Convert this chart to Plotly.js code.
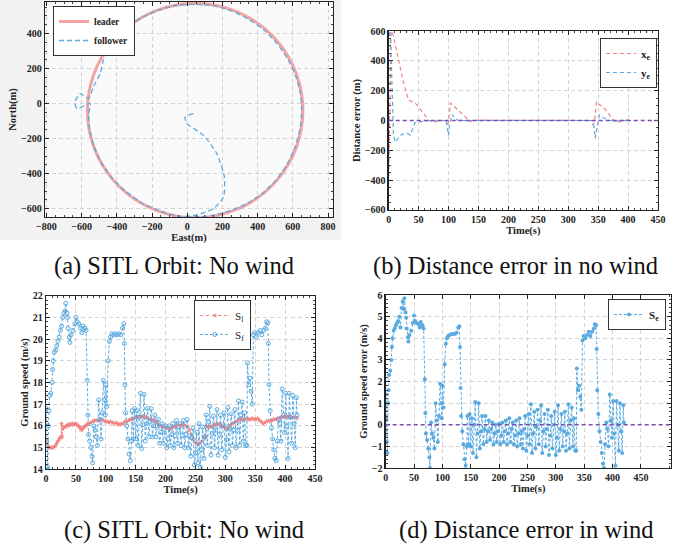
<!DOCTYPE html>
<html><head><meta charset="utf-8">
<script src="https://cdn.plot.ly/plotly-3.0.1.min.js"></script>
<style>html,body{margin:0;padding:0;background:#fff}#chart{width:686px;height:551px}</style>
</head><body><div id="chart"></div>
<script>
// ---- (a) orbit ----
const leaderEast  = [657,648,620,575,514,438,351,254,151,45,-61,-164,-261,-348,-424,-485,-530,-558,-567,-558,-530,-485,-424,-348,-261,-164,-61,45,151,254,351,438,514,575,620,648,657];
const leaderNorth = [-40,66,169,266,353,429,490,535,563,572,563,535,490,429,353,266,169,66,-40,-146,-249,-346,-433,-509,-570,-615,-643,-652,-643,-615,-570,-509,-433,-346,-249,-146,-40];
const followerEast  = [35,-12,-2,92,168,211,206,149,60,-40,-164,-261,-348,-424,-485,-530,-555,-560,-552,-627,-637,-609,-560,-533,-495,-476,-440,-400,-348,-261,-164,-61,45,151,254,351,438,510,570,615,642,650,640,612,568,508,432,345,250,150,45,-10];
const followerNorth = [-57,-76,-114,-181,-286,-419,-534,-600,-635,-645,-610,-565,-503,-428,-342,-246,-145,-60,0,-29,9,57,30,95,171,248,320,390,429,490,533,560,567,558,528,480,418,342,255,160,60,-40,-146,-249,-346,-433,-509,-568,-610,-638,-648,-645];

// ---- (b) distance error ----
const tX = [0,1.5,3,4,7,10,15,20,25,30,33,40,45,50,55,61,67,72,78,85,90,95,98,100,103,108,114,120,128,132,136,140,150,200,250,300,338,341,344,347,352,358,363,369,374,378,383,390,397,405];
const xe = [-420,0,400,600,580,520,430,340,250,175,137,125,114,90,62,36,2,-4,-9,-2,0,0,-25,-10,118,98,80,55,25,5,-9,0,2,1,0,1,0,-30,-10,126,105,93,70,37,10,-8,-12,0,3,1];
const tY = [0,2,4,6,8,11,15,20,25,31,36,40,44,48,55,60,70,90,96,98,100,102,106,111,115,120,200,300,340,343,345,349,352,358,363,370,380,390,405];
const ye = [560,600,450,100,-100,-145,-120,-98,-90,-87,-98,-60,-15,-8,-8,-2,0,0,0,-60,-100,-20,40,13,3,0,2,0,0,-40,-120,-30,37,20,10,0,-3,0,0];

// ---- (c)/(d) ground speed ----
const tL = [0,2,4,6,8,10,12,14,16,18,20,22,24,25,26,27,28,30,32,34,36,38,40,42,44,46,48,50,52,54,56,58,60,62,64,66,68,70,72,75,78,81,84,87,90,93,96,99,102,105,108,111,114,117,120,123,126,129,132,135,138,141,144,147,150,153,156,159,162,165,168,171,174,177,180,183,186,189,192,195,198,201,204,207,210,213,216,219,222,225,228,231,234,237,240,243,246,249,252,255,258,261,264,267,268,270,273,276,279,282,285,288,291,294,297,300,303,306,309,312,315,318,321,324,327,330,333,336,339,342,345,348,351,354,357,360,363,366,369,372,375,378,381,384,387,390,393,396,399,402,405,408,411,414,417,420];
const sL = [15.4,15.2,15.05,15.0,15.0,15.0,15.0,15.05,15.1,15.2,15.3,15.4,15.45,15.5,16.1,15.5,15.85,15.95,15.95,16.0,16.05,16.0,16.1,16.05,16.1,16.05,16.1,16.1,16.05,16.0,15.95,15.85,15.8,15.9,15.95,16.0,16.05,16.1,16.1,16.15,16.2,16.25,16.25,16.25,16.25,16.3,16.25,16.2,16.2,16.15,16.2,16.15,16.1,16.15,16.1,16.05,16.1,16.1,16.2,16.2,16.25,16.3,16.3,16.35,16.4,16.4,16.45,16.45,16.4,16.45,16.4,16.35,16.3,16.3,16.25,16.2,16.15,16.05,16.0,15.95,15.95,15.9,15.9,15.85,15.9,15.95,16.0,16.0,16.05,16.0,16.05,16.05,16.0,15.95,15.8,15.6,15.4,15.25,15.2,15.15,15.2,15.3,15.45,15.5,16.0,15.95,15.95,16.0,15.95,16.05,16.1,16.05,16.1,16.0,15.95,15.9,15.85,15.95,16.05,16.1,16.15,16.2,16.25,16.3,16.3,16.3,16.3,16.35,16.3,16.3,16.35,16.3,16.3,16.35,16.25,16.2,16.1,16.15,16.2,16.25,16.2,16.25,16.3,16.3,16.35,16.35,16.4,16.4,16.45,16.4,16.45,16.45,16.4,16.4,16.4,16.35];

const tF = [0,1,2,3,4,5,6,8,10,11,12,14,16,18,20,22,24,26,28,30,32,33,35,36,37,39,40,42,45,48,50,52,55,58,60,62,65,67,69,70,71,73,75,77,78,80,82,84,86,88,90,92,94,96,98,99,100,102,104,106,108,110,113,116,119,122,125,128,130,131,132,133,135,137,139,141,143,144,
146,148,150,152,154,156,158,160,162,164,166,168,170,172,174,176,178,180,182,184,186,188,190,192,194,196,198,200,202,204,206,208,210,212,214,216,218,220,222,224,226,228,230,232,234,236,238,240,242,244,246,248,250,252,254,256,258,260,262,264,266,268,270,272,274,276,278,280,282,284,286,288,290,292,294,296,298,300,302,304,306,308,310,312,314,316,318,320,322,324,326,328,330,332,334,
336,337,339,341,343,345,347,349,352,355,358,361,364,367,369,371,372,373,375,377,379,381,383,385,387,389,391,393,395,397,399,401,403,405,407,409,411,413,415,417,419,420];
const sF = [16.8,15.3,14.1,14.0,16.0,16.7,17.4,17.5,18.0,18.6,19.0,19.4,19.5,19.7,19.9,20.1,20.4,20.6,21.0,21.2,21.3,21.65,21.2,21.0,20.5,20.1,19.85,20.2,20.4,20.7,21.0,20.8,20.7,20.5,20.3,20.6,20.5,20.4,18.1,16.5,15.6,15.3,15.0,14.6,14.3,16.0,15.8,15.5,15.1,17.2,16.3,15.4,16.6,18.1,17.2,16.5,17.9,16.9,19.0,19.9,20.1,20.25,20.2,20.25,20.2,20.25,20.2,20.5,20.7,19.8,17.9,16.6,16.0,15.4,14.7,14.4,15.3,16.7,
15.4,16.8,15.4,16.7,15.1,16.4,17.5,14.95,16.05,17.45,15.3,16.1,16.8,15.5,16.2,16.8,15.5,16.0,16.5,15.5,16.0,16.3,15.2,15.7,16.1,15.2,15.7,16.0,15.0,15.4,16.0,15.1,15.6,16.1,15.0,15.55,16.25,15.2,15.8,16.1,15.1,15.55,16.25,15.0,15.6,16.3,15.0,15.55,14.6,15.45,15.9,14.2,14.75,15.7,14.3,16.1,14.1,14.9,15.95,14.5,15.5,16.5,15.1,16.2,16.9,14.65,15.65,16.45,15.0,15.8,16.75,14.65,15.6,16.5,14.9,16.0,16.6,14.55,15.35,16.85,14.8,15.85,16.55,15.1,15.8,16.75,15.0,15.8,17.15,15.1,16.5,17.1,15.3,16.6,15.1,
15.1,18.9,17.9,18.2,17.6,17.0,20.2,20.3,20.1,20.3,20.4,20.2,20.4,20.5,20.8,20.75,19.8,17.9,16.7,15.9,15.4,14.9,14.5,14.4,15.3,16.3,16.1,15.3,17.7,16.5,15.7,17.5,16.0,14.5,17.5,16.4,15.2,17.4,16.1,15.0,17.3,16.5];
const sE = [1.4,0.3,-0.8,-1.3,1.0,1.6,2.3,2.5,3.0,3.6,4.0,4.35,4.45,4.6,4.7,4.8,5.0,4.5,5.4,5.7,5.35,5.85,5.2,4.95,4.45,4.05,3.85,4.15,4.35,4.7,5.05,4.8,4.7,4.65,4.5,4.75,4.6,4.45,2.1,0.55,-0.4,-0.7,-1.1,-1.5,-2.0,0.1,-0.4,-0.6,-1.1,1.0,0.2,-0.8,0.4,1.9,1.0,0.3,1.8,0.8,2.8,3.75,4.0,4.1,4.15,4.2,4.2,4.2,4.25,4.5,4.55,3.6,1.7,0.4,-0.3,-0.9,-1.6,-1.9,-1.0,0.4,
-0.9,0.5,-1.0,0.3,-1.3,0.0,1.05,-1.5,-0.4,1.0,-1.1,-0.3,0.4,-0.9,-0.2,0.4,-0.8,-0.3,0.2,-0.7,-0.2,0.1,-0.9,-0.4,0.0,-0.8,-0.3,0.05,-0.9,-0.5,0.1,-0.8,-0.3,0.2,-0.9,-0.4,0.3,-0.8,-0.2,0.1,-0.9,-0.5,0.2,-1.0,-0.4,0.3,-0.9,-0.3,-1.1,-0.2,0.4,-1.2,-0.5,0.5,-0.9,0.95,-1.3,-0.4,0.6,-1.1,-0.1,0.7,-0.9,0.2,0.9,-1.3,-0.3,0.5,-1.0,-0.2,0.7,-1.4,-0.5,0.4,-1.1,0.0,0.6,-1.4,-0.6,0.9,-1.2,-0.2,0.5,-1.0,-0.3,0.6,-1.2,-0.4,0.95,-1.1,0.2,0.8,-1.0,0.3,-1.2,
-1.2,2.6,1.6,1.8,1.3,0.7,3.9,4.1,4.0,4.15,4.3,4.1,4.3,4.45,4.65,4.6,3.5,1.6,0.5,-0.3,-0.8,-1.3,-1.8,-2.0,-0.9,0.1,-0.2,-1.0,1.4,0.2,-0.6,1.1,-0.4,-1.9,1.1,0.0,-1.2,1.0,-0.3,-1.3,0.9,0.1];

const captions = ['(a) SITL Orbit: No wind','(b) Distance error in no wind','(c) SITL Orbit: No wind','(d) Distance error in wind'];
const zeroLevel = 0;

const RED = '#f28282', BLUE = '#5aaae0', PURPLE = '#7b4fb0';
const SERIF = 'Liberation Serif, Times New Roman, serif';
const DASH = '4px,3px';

const traces = [
  {x: leaderEast, y: leaderNorth, xaxis:'x', yaxis:'y', name:'leader', legend:'legend', mode:'lines',
   line:{color:'#f4a3a3', width:3, shape:'spline'}},
  {x: followerEast, y: followerNorth, xaxis:'x', yaxis:'y', name:'follower', legend:'legend', mode:'lines',
   line:{color:BLUE, width:1.3, dash:'5px,3px', shape:'spline', smoothing:0.6}},
  {x: tX, y: xe, xaxis:'x2', yaxis:'y2', name:'<b>x<sub>e</sub></b>', legend:'legend2', mode:'lines',
   line:{color:RED, width:1.2, dash:DASH}},
  {x: tY, y: ye, xaxis:'x2', yaxis:'y2', name:'<b>y<sub>e</sub></b>', legend:'legend2', mode:'lines',
   line:{color:BLUE, width:1.2, dash:DASH}},
  {x: tL, y: sL, xaxis:'x3', yaxis:'y3', name:'S<sub>l</sub>', legend:'legend3', mode:'lines+markers',
   line:{color:RED, width:1, dash:'dot'}, marker:{symbol:'star', size:4, color:RED}},
  {x: tF, y: sF, xaxis:'x3', yaxis:'y3', name:'S<sub>f</sub>', legend:'legend3', mode:'lines+markers',
   line:{color:BLUE, width:1, dash:'3px,2px'}, marker:{symbol:'circle-open', size:4, color:BLUE, line:{width:1}}},
  {x: tF, y: sE, xaxis:'x4', yaxis:'y4', name:'<b>S<sub>e</sub></b>', legend:'legend4', mode:'lines+markers',
   line:{color:BLUE, width:1, dash:'3px,2px'}, marker:{symbol:'circle', size:4, color:BLUE}}
];

function ax(extra){
  return Object.assign({
    showline:true, linecolor:'#222', linewidth:1.2, mirror:'allticks',
    ticks:'inside', ticklen:4, tickcolor:'#222',
    showgrid:true, gridcolor:'#d4d4d4', griddash:'4px,3px', gridwidth:1,
    zeroline:false,
    tickfont:{family:SERIF, size:10, color:'#222', weight:'bold'},
    minor:{ticks:'inside', ticklen:2, tickcolor:'#444', showgrid:false}
  }, extra);
}
function ttl(t, s){ return {text:'<b>'+t+'</b>', font:{family:SERIF, size:s||10.5, color:'#222'}, standoff:2}; }
function leg(x, y, fs, bold){
  return {x:x, y:y, xanchor:'right', yanchor:'top', bgcolor:'#fff', bordercolor:'#333', borderwidth:1,
    font:{family:SERIF, size:fs, color:'#222', weight: bold ? 'bold' : 'normal'}, itemwidth:30, tracegroupgap:0};
}
function cap(text, x, y){
  return {text:text, xref:'paper', yref:'paper', x:x, y:y, xanchor:'center', yanchor:'middle', showarrow:false,
    font:{family:SERIF, size:24.5, color:'#111'}};
}

const layout = {
  width:686, height:551, margin:{l:0, r:0, t:0, b:0},
  paper_bgcolor:'#fff', plot_bgcolor:'#fff', showlegend:true,
  xaxis: ax({domain:[0.0656,0.4854], range:[-808,828], dtick:200, anchor:'y', title:ttl('East(m)')}),
  yaxis: ax({domain:[0.6062,0.9964], range:[-648,580], dtick:200, anchor:'x', title:ttl('North(m)')}),
  xaxis2: ax({domain:[0.5666,0.9592], range:[0,450], dtick:50, anchor:'y2', title:ttl('Time(s)')}),
  yaxis2: ax({domain:[0.6189,0.9437], range:[-600,600], dtick:200, anchor:'x2', title:ttl('Distance error (m)')}),
  xaxis3: ax({domain:[0.0671,0.4592], range:[0,450], dtick:50, anchor:'y3', title:ttl('Time(s)')}),
  yaxis3: ax({domain:[0.1483,0.4633], range:[14,22], dtick:1, anchor:'x3', title:ttl('Ground speed (m/s)')}),
  xaxis4: ax({domain:[0.5622,0.9781], range:[0,503], tickvals:[0,50,100,150,200,250,300,350,400,450], anchor:'y4', title:ttl('Time(s)')}),
  yaxis4: ax({domain:[0.1506,0.4646], range:[-2,6], dtick:1, anchor:'x4', title:ttl('Ground speed error (m/s)')}),
  legend: Object.assign(leg(53/686, 1-6/551, 9.5, true), {xanchor:'left'}),
  legend2: leg(657/686, 1-38/551, 11, false),
  legend3: leg(251/686, 1-300/551, 11, false),
  legend4: leg(666/686, 1-299/551, 11, false),
  shapes: [
    {type:'rect', xref:'paper', yref:'paper', x0:0, x1:0.497, y0:0.565, y1:1, fillcolor:'#f2f2f2', line:{width:0}, layer:'below'},
    {type:'rect', xref:'x domain', yref:'y domain', x0:0, x1:1, y0:0, y1:1, fillcolor:'#fafafa', line:{width:0}, layer:'below'},
    {type:'line', xref:'x2 domain', yref:'y2', x0:0, x1:1, y0:zeroLevel, y1:zeroLevel, line:{color:PURPLE, width:1.3, dash:'4px,3px'}},
    {type:'line', xref:'x4 domain', yref:'y4', x0:0, x1:1, y0:zeroLevel, y1:zeroLevel, line:{color:PURPLE, width:1.3, dash:'4px,3px'}}
  ],
  annotations: [
    cap(captions[0], 174/686, 1-266/551),
    cap(captions[1], 515.5/686, 1-266/551),
    cap(captions[2], 184.5/686, 1-530/551),
    cap(captions[3], 525.5/686, 1-530/551)
  ]
};

Plotly.newPlot('chart', traces, layout, {staticPlot:true, displayModeBar:false});
</script></body></html>
